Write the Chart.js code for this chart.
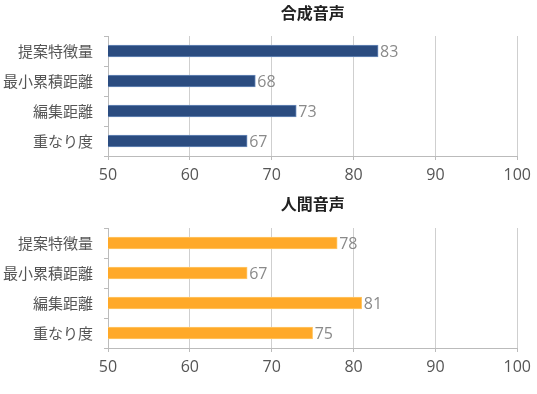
<!DOCTYPE html>
<html><head><meta charset="utf-8">
<script src="https://cdn.jsdelivr.net/npm/chart.js@4/dist/chart.umd.min.js"></script>
<style>
html,body{margin:0;padding:0;background:#fff;}
#wrap{position:relative;width:537px;height:394px;}
canvas{position:absolute;left:0;}
</style></head><body>
<div id="wrap">
<canvas id="c1" width="537" height="192" style="top:0"></canvas>
<canvas id="c2" width="537" height="202" style="top:192px"></canvas>
</div>
<script>
const categories = ['提案特徴量', '最小累積距離', '編集距離', '重なり度'];
const syntheticValues = [83, 68, 73, 67];
const humanValues = [78, 67, 81, 75];
const xTicks = [50, 60, 70, 80, 90, 100];
const titles = ['合成音声', '人間音声'];

const FONT = "'Noto Sans CJK JP', 'Noto Sans', sans-serif";
const NUMFONT = "'Open Sans', 'Noto Sans', sans-serif";

const titlePlugin = {
  id: 'centerTitle',
  afterDraw(chart, args, opts) {
    const ctx = chart.ctx, a = chart.chartArea;
    ctx.save();
    ctx.font = "bold 16px " + FONT;
    ctx.fillStyle = '#222';
    ctx.textAlign = 'center';
    ctx.textBaseline = 'middle';
    ctx.fillText(opts.text, (a.left + a.right) / 2, opts.y);
    ctx.restore();
  }
};
const labelPlugin = {
  id: 'valueLabels',
  afterDatasetsDraw(chart) {
    const ctx = chart.ctx;
    ctx.save();
    ctx.font = "16px " + NUMFONT;
    ctx.fillStyle = '#8a8a8a';
    ctx.textAlign = 'left';
    ctx.textBaseline = 'middle';
    chart.getDatasetMeta(0).data.forEach((bar, i) => {
      ctx.fillText(String(chart.data.datasets[0].data[i]), bar.x + 2, bar.y + 1);
    });
    ctx.restore();
  }
};

function makeChart(id, values, color, border, title, titleY, padBottom) {
  return new Chart(document.getElementById(id), {
    type: 'bar',
    data: { labels: categories, datasets: [{ data: values, backgroundColor: color, borderColor: border, borderWidth: 1, barThickness: 12 }] },
    plugins: [titlePlugin, labelPlugin],
    options: {
      indexAxis: 'y',
      responsive: false,
      animation: false,
      devicePixelRatio: 1,
      layout: { padding: { top: 36, right: 19, bottom: padBottom, left: 0 } },
      plugins: {
        legend: { display: false },
        tooltip: { enabled: false },
        centerTitle: { text: title, y: titleY }
      },
      scales: {
        x: {
          min: 50, max: 100,
          afterBuildTicks(scale) { scale.ticks = xTicks.map(v => ({ value: v })); },
          afterFit(scale) { scale.height = 30; },
          grid: { color: '#cfcfcf', lineWidth: 1, drawTicks: true, tickLength: 4, tickColor: '#bbb' },
          border: { color: '#bbb' },
          ticks: { color: '#555', font: { family: NUMFONT, size: 16 }, padding: 6, maxRotation: 0 }
        },
        y: {
          afterFit(scale) { scale.width = 108; },
          grid: { offset: true, drawOnChartArea: false, drawTicks: true, tickLength: 4, tickColor: '#bbb' },
          border: { color: '#bbb' },
          ticks: { color: '#555', font: { family: FONT, size: 15 }, padding: 11 }
        }
      }
    }
  });
}

makeChart('c1', syntheticValues, '#2B4C80', '#6d8dbd', titles[0], 13, 6);
makeChart('c2', humanValues, '#FFA928', '#ffc86a', titles[1], 12, 16);
</script>
</body></html>
